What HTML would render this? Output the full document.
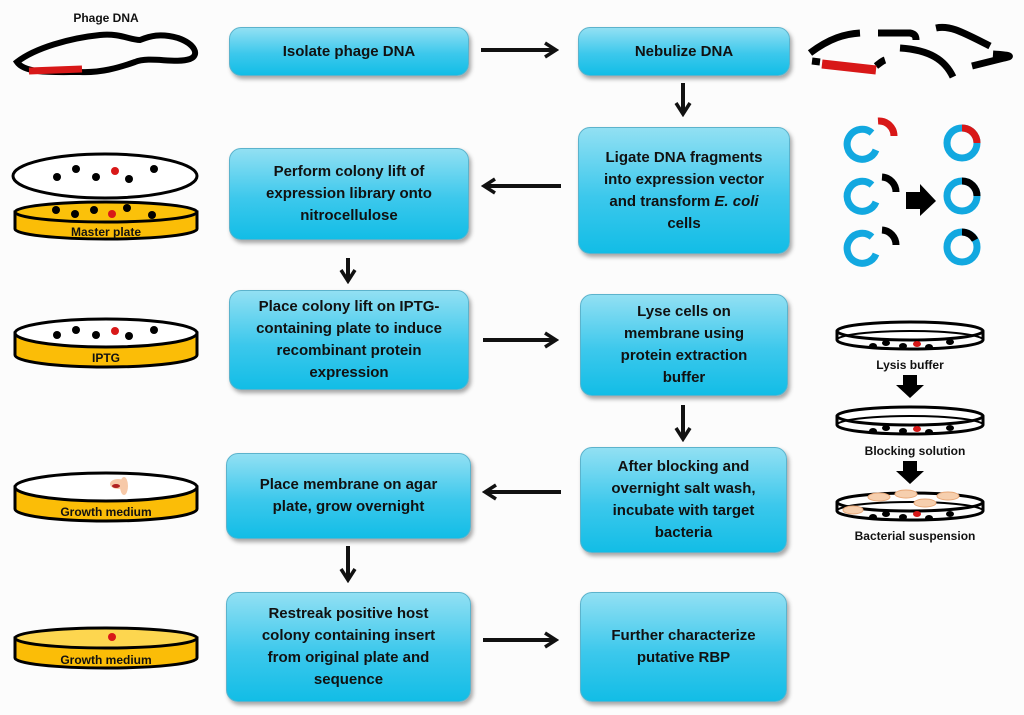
<!DOCTYPE html>
<html><head><meta charset="utf-8"><style>
html,body{margin:0;padding:0;background:#fcfcfc;}
#c{position:relative;width:1024px;height:715px;overflow:hidden;font-family:"Liberation Sans",sans-serif;}
.b{position:absolute;box-sizing:border-box;border-radius:12px;background:linear-gradient(#92e0f3 0%,#3cc8ec 55%,#12bde6 100%);border:1px solid #5cb3cc;box-shadow:2px 3px 4px rgba(0,0,0,0.35);display:flex;align-items:center;justify-content:center;text-align:center;font-weight:bold;font-size:15px;line-height:22px;color:#111;}
svg{position:absolute;left:0;top:0;}
.t{font-family:"Liberation Sans",sans-serif;font-weight:bold;font-size:12px;fill:#111;}
</style></head><body><div id="c">
<svg width="1024" height="715" viewBox="0 0 1024 715">
<defs><marker id="ah" markerWidth="16" markerHeight="18" refX="13" refY="9" orient="auto" markerUnits="userSpaceOnUse"><path d="M2,2 L13,9 L2,16" fill="none" stroke="#111" stroke-width="3.5"/></marker></defs>
<g stroke="#111" stroke-width="4" fill="none" marker-end="url(#ah)">
<line x1="481" y1="50" x2="556" y2="50"/>
<line x1="683" y1="83" x2="683" y2="114"/>
<line x1="561" y1="186" x2="484" y2="186"/>
<line x1="348" y1="258" x2="348" y2="281"/>
<line x1="483" y1="340" x2="556" y2="340"/>
<line x1="683" y1="405" x2="683" y2="439"/>
<line x1="561" y1="492" x2="485" y2="492"/>
<line x1="348" y1="546" x2="348" y2="580"/>
<line x1="483" y1="640" x2="556" y2="640"/>
</g>
<!-- phage DNA -->
<text x="106" y="22" class="t" text-anchor="middle">Phage DNA</text>
<path d="M17,62 C35,48 70,38 100,35 C120,33 130,40 140,40 C150,36 160,33 178,38 C195,44 200,55 190,59 C175,64 150,56 135,62 C118,68 100,73 80,72 C55,72 25,74 17,62 Z" fill="none" stroke="#000" stroke-width="6"/>
<path d="M29,71 L82,69" stroke="#d81818" stroke-width="7"/>
<!-- fragments -->
<g stroke="#000" stroke-width="7" fill="none">
<path d="M810,53 C830,38 845,34 860,33"/>
<path d="M878,33 L910,33 C916,34 916,38 916,40"/>
<path d="M936,28 C950,25 962,32 990,46"/>
<path d="M900,48 C930,50 945,60 953,77"/>
<path d="M993,54 C1008,55 1015,56 1004,58 L972,66"/>
<path d="M812,61 L820,62"/>
<path d="M876,66 C880,63 882,61 885,60"/>
</g>
<path d="M822,64 L876,70" stroke="#d81818" stroke-width="9"/>
<!-- vector rings -->
<g fill="none" stroke-width="7">
<path d="M872,133 A15,15 0 1 0 876,150" stroke="#12a8e0"/>
<path d="M878,121 A15,15 0 0 1 894,136" stroke="#d81818"/>
<path d="M872,185 A15,15 0 1 0 876,202" stroke="#12a8e0"/>
<path d="M882,177 A15,15 0 0 1 896,192" stroke="#000"/>
<path d="M872,237 A15,15 0 1 0 876,254" stroke="#12a8e0"/>
<path d="M882,230 A15,15 0 0 1 896,245" stroke="#000"/>
<circle cx="962" cy="143" r="15" stroke="#12a8e0"/>
<path d="M962,128 A15,15 0 0 1 977,143" stroke="#d81818"/>
<circle cx="962" cy="196" r="15" stroke="#12a8e0"/>
<path d="M962,181 A15,15 0 0 1 977,196" stroke="#000"/>
<circle cx="962" cy="247" r="15" stroke="#12a8e0"/>
<path d="M962,232 A15,15 0 0 1 975,240" stroke="#000"/>
</g>
<path d="M906,192 L920,192 L920,184 L936,201 L920,216 L920,209 L906,209 Z" fill="#000"/>
<!-- left plates -->
<ellipse cx="105" cy="176" rx="92" ry="22" fill="#fff" stroke="#000" stroke-width="3"/>
<g fill="#000"><circle cx="57" cy="177" r="4"/><circle cx="76" cy="169" r="4"/><circle cx="96" cy="177" r="4"/><circle cx="129" cy="179" r="4"/><circle cx="154" cy="169" r="4"/></g>
<circle cx="115" cy="171" r="4" fill="#d81818"/>
<g>
<path d="M15,212 L15,229 A91,10 0 0 0 197,229 L197,212 Z" fill="#fbbd07" stroke="#000" stroke-width="3"/>
<ellipse cx="106" cy="212" rx="91" ry="10" fill="#fbc10a" stroke="#000" stroke-width="3"/>
<g fill="#000"><circle cx="56" cy="210" r="4"/><circle cx="75" cy="214" r="4"/><circle cx="94" cy="210" r="4"/><circle cx="127" cy="208" r="4"/><circle cx="152" cy="215" r="4"/></g>
<circle cx="112" cy="214" r="4" fill="#d81818"/>
<text x="106" y="236" class="t" text-anchor="middle" font-size="13">Master plate</text>
</g>
<g>
<path d="M15,333 L15,355 A91,12 0 0 0 197,355 L197,333 Z" fill="#fbbd07" stroke="#000" stroke-width="3"/>
<ellipse cx="106" cy="333" rx="91" ry="14" fill="#fff" stroke="#000" stroke-width="3"/>
<g fill="#000"><circle cx="57" cy="335" r="4"/><circle cx="76" cy="330" r="4"/><circle cx="96" cy="335" r="4"/><circle cx="129" cy="336" r="4"/><circle cx="154" cy="330" r="4"/></g>
<circle cx="115" cy="331" r="4" fill="#d81818"/>
<text x="106" y="362" class="t" text-anchor="middle" font-size="13">IPTG</text>
</g>
<g>
<path d="M15,487 L15,509 A91,12 0 0 0 197,509 L197,487 Z" fill="#fbbd07" stroke="#000" stroke-width="3"/>
<ellipse cx="106" cy="487" rx="91" ry="14" fill="#fff" stroke="#000" stroke-width="3"/>
<ellipse cx="118" cy="484" rx="8" ry="5" fill="#f7c9a8"/><ellipse cx="124" cy="486" rx="4" ry="9" fill="#f7c9a8"/><ellipse cx="116" cy="486" rx="4" ry="2" fill="#b02020"/>
<text x="106" y="516" class="t" text-anchor="middle" font-size="13">Growth medium</text>
</g>
<g>
<path d="M15,638 L15,658 A91,10 0 0 0 197,658 L197,638 Z" fill="#fbbd07" stroke="#000" stroke-width="3"/>
<ellipse cx="106" cy="638" rx="91" ry="10" fill="#fdd64f" stroke="#000" stroke-width="3"/>
<circle cx="112" cy="637" r="4" fill="#d81818"/>
<text x="106" y="664" class="t" text-anchor="middle" font-size="13">Growth medium</text>
</g>
<!-- right plates -->
<g fill="none" stroke="#000" stroke-width="3">
<ellipse cx="910" cy="331" rx="73" ry="9" fill="#fff"/>
<path d="M837,331 L837,340 A73,9 0 0 0 983,340 L983,331"/>
<path d="M837,340 A73,9 0 0 1 983,340" stroke-width="2"/>
</g>
<g fill="#000"><ellipse cx="873" cy="346" rx="4" ry="3"/><ellipse cx="886" cy="343" rx="4" ry="3"/><ellipse cx="903" cy="346" rx="4" ry="3"/><ellipse cx="929" cy="347" rx="4" ry="3"/><ellipse cx="950" cy="342" rx="4" ry="3"/></g>
<ellipse cx="917" cy="344" rx="4" ry="3" fill="#d81818"/>
<text x="910" y="369" class="t" text-anchor="middle">Lysis buffer</text>
<path d="M903,375 L917,375 L917,385 L924,385 L910,398 L896,385 L903,385 Z" fill="#000"/>
<g fill="none" stroke="#000" stroke-width="3">
<ellipse cx="910" cy="416" rx="73" ry="9" fill="#fff"/>
<path d="M837,416 L837,425 A73,9 0 0 0 983,425 L983,416"/>
<path d="M837,425 A73,9 0 0 1 983,425" stroke-width="2"/>
</g>
<g fill="#000"><ellipse cx="873" cy="431" rx="4" ry="3"/><ellipse cx="886" cy="428" rx="4" ry="3"/><ellipse cx="903" cy="431" rx="4" ry="3"/><ellipse cx="929" cy="432" rx="4" ry="3"/><ellipse cx="950" cy="428" rx="4" ry="3"/></g>
<ellipse cx="917" cy="429" rx="4" ry="3" fill="#d81818"/>
<text x="915" y="455" class="t" text-anchor="middle">Blocking solution</text>
<path d="M903,461 L917,461 L917,471 L924,471 L910,484 L896,471 L903,471 Z" fill="#000"/>
<g fill="none" stroke="#000" stroke-width="3">
<ellipse cx="910" cy="502" rx="73" ry="9" fill="#fff"/>
<path d="M837,502 L837,511 A73,9 0 0 0 983,511 L983,502"/>
<path d="M837,511 A73,9 0 0 1 983,511" stroke-width="2"/>
</g>
<g fill="#f6cfae" stroke="#e8a878" stroke-width="1"><ellipse cx="879" cy="497" rx="11" ry="4"/><ellipse cx="906" cy="494" rx="11" ry="4"/><ellipse cx="925" cy="503" rx="11" ry="4"/><ellipse cx="948" cy="496" rx="11" ry="4"/><ellipse cx="853" cy="510" rx="10" ry="4"/></g>
<g fill="#000"><ellipse cx="873" cy="517" rx="4" ry="3"/><ellipse cx="886" cy="514" rx="4" ry="3"/><ellipse cx="903" cy="517" rx="4" ry="3"/><ellipse cx="929" cy="518" rx="4" ry="3"/><ellipse cx="950" cy="514" rx="4" ry="3"/></g>
<ellipse cx="917" cy="514" rx="4" ry="3" fill="#d81818"/>
<text x="915" y="540" class="t" text-anchor="middle">Bacterial suspension</text>
</svg>
<div class="b" style="left:229px;top:27px;width:240px;height:49px;"><span>Isolate phage DNA</span></div>
<div class="b" style="left:578px;top:27px;width:212px;height:49px;"><span>Nebulize DNA</span></div>
<div class="b" style="left:229px;top:148px;width:240px;height:92px;"><span>Perform colony lift of<br>expression library onto<br>nitrocellulose</span></div>
<div class="b" style="left:578px;top:127px;width:212px;height:127px;"><span>Ligate DNA fragments<br>into expression vector<br>and transform <i>E. coli</i><br>cells</span></div>
<div class="b" style="left:229px;top:290px;width:240px;height:100px;"><span>Place colony lift on IPTG-<br>containing plate to induce<br>recombinant protein<br>expression</span></div>
<div class="b" style="left:580px;top:294px;width:208px;height:102px;"><span>Lyse cells on<br>membrane using<br>protein extraction<br>buffer</span></div>
<div class="b" style="left:226px;top:453px;width:245px;height:86px;"><span>Place membrane on agar<br>plate, grow overnight</span></div>
<div class="b" style="left:580px;top:447px;width:207px;height:106px;"><span>After blocking and<br>overnight salt wash,<br>incubate with target<br>bacteria</span></div>
<div class="b" style="left:226px;top:592px;width:245px;height:110px;"><span>Restreak positive host<br>colony containing insert<br>from original plate and<br>sequence</span></div>
<div class="b" style="left:580px;top:592px;width:207px;height:110px;"><span>Further characterize<br>putative RBP</span></div>
</div></body></html>
